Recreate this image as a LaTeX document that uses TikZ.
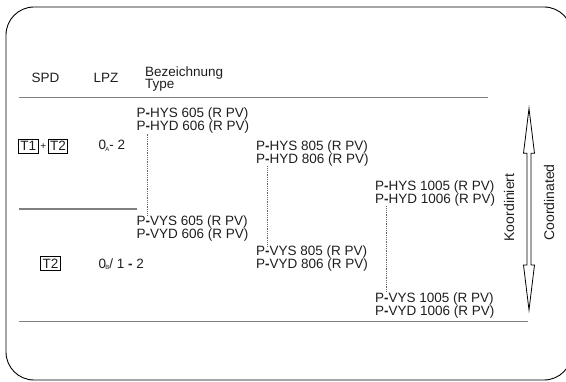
\documentclass[tikz,border=0pt]{standalone}
\usepackage{fontspec}
\setmainfont{Liberation Sans}
\definecolor{txt}{HTML}{1E1E1E}
\definecolor{rulec}{HTML}{808080}
\newcommand{\twoln}[2]{\vtop{\baselineskip=12.6pt\hbox{#1}\hbox{#2}}}
\newcommand{\tinysub}[1]{\kern-0.6pt\raisebox{-1.2pt}{\fontsize{6}{6}\selectfont #1}}
\newcommand{\bh}{\textbf{-}}
\begin{document}
\begin{tikzpicture}[x=1pt,y=-1pt,
  font=\fontsize{13.5}{12.6}\selectfont,
  every node/.style={inner sep=0pt, text=txt},
  lbl/.style={anchor=base west},
  tbox/.style={draw=black, line width=0.7pt, inner xsep=1.8pt, inner ysep=2.2pt, text height=9.6pt, text depth=0pt, anchor=base},
  hline/.style={draw=rulec, line width=1.2pt},
  dots/.style={draw=rulec!80!black, line width=1pt, dash pattern=on 1pt off 0.8pt},
  vlab/.style={rotate=90, font=\fontsize{14}{14}\selectfont}]
\useasboundingbox (0,0) rectangle (566,382);
\draw[black, line width=0.9pt, rounded corners=28pt] (6,7) rectangle (572,380);
% headers
\node[anchor=base] (spd) at (45.5,83) {SPD};
\node[anchor=base] (lpz) at (106,83) {LPZ};
\node[lbl] (bez) at (145,76.5) {Bezeichnung};
\node[lbl] (typ) at (145,89) {Type};
% rules
\draw[hline] (19,97.7) -- (488,97.7);
\draw[hline] (19,209) -- (137,209);
\draw[hline] (19,321.7) -- (528,321.7);
% left column
\node[tbox] (t1) at (28.3,151) {T1};
\node[anchor=base, font=\fontsize{10}{10}\selectfont] (plus) at (43.3,150) {+};
\node[tbox] (t2a) at (58,151) {T2};
\node[lbl] (lpza) at (98.3,150) {0\tinysub{A}- 2};
\node[tbox] (t2b) at (50.5,268.5) {T2};
\node[lbl] (lpzb) at (98.3,268.5) {0\tinysub{B}/ 1 \bh{} 2};
% type blocks
\node[lbl] (h605) at (136.5,118) {\twoln{P\bh HYS 605 (R PV)}{P\bh HYD 606 (R PV)}};
\node[lbl] (h805) at (256,150.8) {\twoln{P\bh HYS 805 (R PV)}{P\bh HYD 806 (R PV)}};
\node[lbl] (h1005) at (375,190.8) {\twoln{P\bh HYS 1005 (R PV)}{P\bh HYD 1006 (R PV)}};
\node[lbl] (v605) at (136.5,225.5) {\twoln{P\bh VYS 605 (R PV)}{P\bh VYD 606 (R PV)}};
\node[lbl] (v805) at (256,256) {\twoln{P\bh VYS 805 (R PV)}{P\bh VYD 806 (R PV)}};
\node[lbl] (v1005) at (375,302.5) {\twoln{P\bh VYS 1005 (R PV)}{P\bh VYD 1006 (R PV)}};
% dotted connectors
\draw[dots] ([xshift=11.2pt]h605.south west) -- ([xshift=11.2pt]v605.north west);
\draw[dots] ([xshift=11.2pt]h805.south west) -- ([xshift=11.2pt]v805.north west);
\draw[dots] ([xshift=11.2pt]h1005.south west) -- ([xshift=11.2pt]v1005.north west);
% double arrow
\draw[black, line width=0.8pt, line join=miter]
  (529,108.5) -- (534.5,153.3) -- (531,153.3) -- (531,265) -- (534.5,265) -- (529,310)
  -- (523.5,265) -- (527,265) -- (527,153.3) -- (523.5,153.3) -- cycle;
\node[vlab] (koord) at (509,207.5) {Koordiniert};
\node[vlab] (coord) at (549,202.5) {Coordinated};
\end{tikzpicture}
\end{document}
